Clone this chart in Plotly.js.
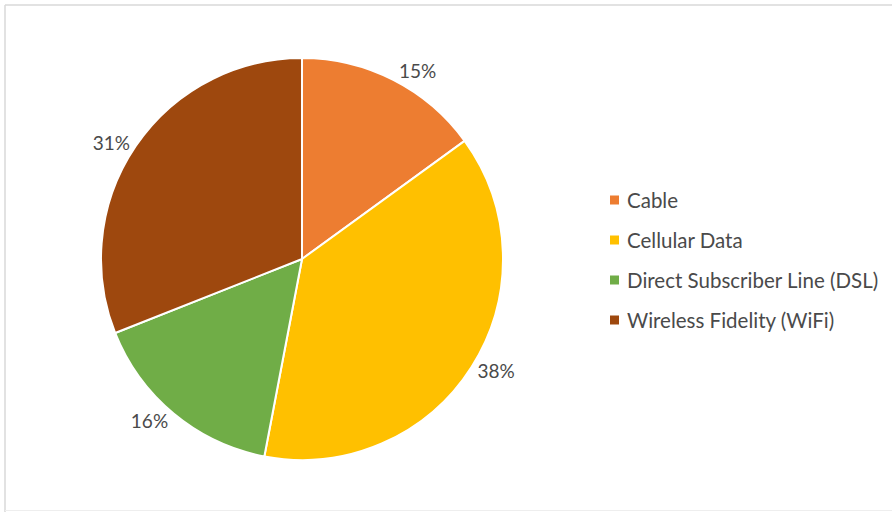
<!DOCTYPE html>
<html>
<head>
<meta charset="utf-8">
<script src="https://cdn.plot.ly/plotly-3.0.1.min.js"></script>
<style>html,body{margin:0;padding:0;background:#fff;}#chart{width:892px;height:512px;}</style>
</head>
<body>
<div id="chart"></div>
<script>
const categories = ["Cable", "Cellular Data", "Direct Subscriber Line (DSL)", "Wireless Fidelity (WiFi)"];
const values = [15, 38, 16, 31];
const colors = ["#ED7D31", "#FFC000", "#70AD47", "#9E480E"];

const W = 892, H = 512;
const textColor = "#4a4a4a";
const fontFam = "Lato, 'Open Sans', sans-serif";

const trace = {
  type: "pie",
  labels: categories,
  values: values,
  sort: false,
  direction: "clockwise",
  rotation: 0,
  marker: { colors: colors, line: { color: "#ffffff", width: 2 } },
  textposition: "outside",
  texttemplate: "%{percent:.0%}",
  outsidetextfont: { family: fontFam, size: 19, color: textColor },
  showlegend: false,
  hoverinfo: "label+percent",
  domain: { x: [99 / W, 505 / W], y: [52 / H, 454 / H] }
};

// Legend drawn from the category/color arrays
const annotations = [];
const shapes = [];
const legX = 625, legY0 = 200, legStep = 40;
categories.forEach((c, i) => {
  const yc = legY0 + i * legStep;
  annotations.push({
    xref: "paper", yref: "paper",
    x: legX / W, y: 1 - yc / H,
    xanchor: "left", yanchor: "middle",
    text: c, showarrow: false,
    font: { family: fontFam, size: 20.5, color: textColor }
  });
  shapes.push({
    type: "rect", xref: "paper", yref: "paper",
    x0: 610 / W, x1: 619 / W, y0: 1 - (yc + 4.5) / H, y1: 1 - (yc - 4.5) / H,
    fillcolor: colors[i], line: { width: 0 }
  });
});
// chart frame lines
shapes.push({ type: "line", xref: "paper", yref: "paper", x0: 5 / W, x1: 1, y0: 1 - 5 / H, y1: 1 - 5 / H, line: { color: "#d9d9d9", width: 1.5 } });
shapes.push({ type: "line", xref: "paper", yref: "paper", x0: 5 / W, x1: 5 / W, y0: 0, y1: 1 - 5 / H, line: { color: "#d9d9d9", width: 1.5 } });
shapes.push({ type: "line", xref: "paper", yref: "paper", x0: 5 / W, x1: 1, y0: 1.5 / H, y1: 1.5 / H, line: { color: "#eeeeee", width: 1 } });

const layout = {
  width: W, height: H,
  margin: { l: 0, r: 0, t: 0, b: 0 },
  paper_bgcolor: "#ffffff",
  showlegend: false,
  annotations: annotations,
  shapes: shapes
};

Plotly.newPlot("chart", [trace], layout, { displayModeBar: false, staticPlot: true });
</script>
</body>
</html>
